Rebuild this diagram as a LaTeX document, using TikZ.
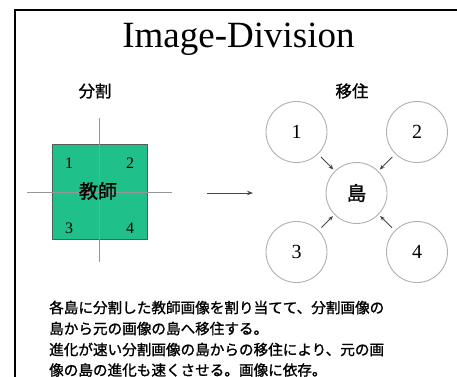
\documentclass[tikz,border=0pt]{standalone}
\usepackage{fontspec}
\setmainfont{Liberation Serif}
\newfontfamily\jp[FakeBold=1.2]{Noto Sans CJK JP}
\usetikzlibrary{arrows.meta}
\definecolor{sqgreen}{RGB}{32,192,138}
\definecolor{linegray}{RGB}{150,150,150}
\definecolor{circgray}{RGB}{175,175,175}
\definecolor{arrgray}{RGB}{70,70,70}
\tikzset{
  frame/.style={line width=1.8pt, black},
  crossline/.style={draw=linegray, line width=0.9pt},
  sqbox/.style={rectangle, draw=gray!70!black, line width=0.6pt, fill=sqgreen, minimum size=95pt, inner sep=0pt},
  sqnum/.style={font=\fontsize{16}{16}\selectfont, inner sep=0pt},
  isle/.style={circle, draw=circgray, line width=0.9pt, minimum size=61pt, inner sep=0pt, font=\fontsize{20}{20}\selectfont},
  migr/.style={draw=arrgray, line width=0.9pt, -{Stealth[length=5pt,width=4pt]}, shorten <=4pt, shorten >=2pt},
  head/.style={font=\jp\fontsize{16.5}{16.5}\selectfont, inner sep=0pt},
  body/.style={font=\jp\fontsize{14.6}{14.6}\selectfont, inner sep=0pt, anchor=west},
}
\begin{document}
\begin{tikzpicture}[x=1pt,y=-1pt]
\useasboundingbox (0,0) rectangle (457,376);
% frame
\coordinate (fbl) at (15,380);
\coordinate (ftl) at (15,10);
\coordinate (ftr) at (460,10);
\draw[frame] (fbl) -- (ftl) -- (ftr);
% title
\node[font=\fontsize{37}{37}\selectfont, inner sep=0pt, anchor=base] (title) at (238.5,47.7) {Image-Division};
% headings
\node[head] (hdiv) at (95,91) {分割};
\node[head] (hmig) at (352,91) {移住};
% divided square
\node[sqbox] (sq) at (99.5,191.5) {};
\coordinate (vt) at (99,118);
\coordinate (vb) at (99,262);
\coordinate (hl) at (27,192);
\coordinate (hr) at (172,192);
\draw[crossline] (vt) -- (vb);
\draw[crossline] (hl) -- (hr);
\node[sqnum] (q1) at (69,163) {1};
\node[sqnum] (q2) at (130,163) {2};
\node[sqnum] (q3) at (69,228) {3};
\node[sqnum] (q4) at (130,228) {4};
\node[font=\jp\fontsize{19}{19}\selectfont, inner sep=0pt] (teacher) at (98,191) {教師};
% arrow
\coordinate (a1) at (207,193);
\coordinate (a2) at (253,193);
\draw[draw=arrgray, line width=0.9pt, -{Stealth[length=6pt,width=4.5pt]}] (a1) -- (a2);
% islands
\node[isle] (c1) at (296.5,132) {1};
\node[isle] (c2) at (417,132) {2};
\node[isle] (c3) at (296.5,252) {3};
\node[isle] (c4) at (417,252) {4};
\node[isle, font=\jp\fontsize{19.5}{19.5}\selectfont] (is) at (356.5,193) {島};
\draw[migr] (c1) -- (is);
\draw[migr] (c2) -- (is);
\draw[migr] (c3) -- (is);
\draw[migr] (c4) -- (is);
% body text
\node[body] (t1) at (49,307.5) {各島に分割した教師画像を割り当てて、分割画像の};
\node[body] (t2) at (49,328.5) {島から元の画像の島へ移住する。};
\node[body] (t3) at (49,349.5) {進化が速い分割画像の島からの移住により、元の画};
\node[body] (t4) at (49,370) {像の島の進化も速くさせる。画像に依存。};
\end{tikzpicture}
\end{document}
